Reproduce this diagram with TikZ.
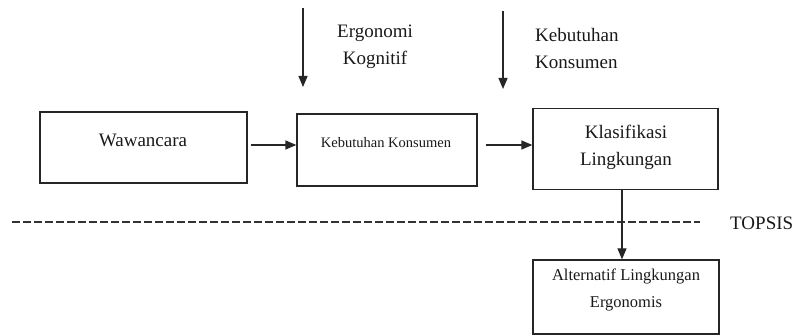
\documentclass[tikz,border=0pt]{standalone}
\usepackage{fontspec}
\setmainfont{Liberation Serif}
\usetikzlibrary{arrows.meta}
\tikzset{
  box/.style={draw=black!85, line width=1.3pt, inner sep=0pt},
  lbl/.style={inner sep=0pt, align=center, text=black!90},
  arr/.style={line width=1.3pt, draw=black!85, -{Triangle[length=11pt,width=9pt]}},
  big/.style={font=\fontsize{19}{27}\selectfont},
}
\begin{document}
\begin{tikzpicture}[x=1pt,y=-1pt]
\useasboundingbox (0,0) rectangle (792,336);
% boxes
\node[box, minimum width=207pt, minimum height=71pt] (w) at (143.5,147.5) {};
\node[lbl, big] (wt) at (143,140) {Wawancara};
\node[box, minimum width=180pt, minimum height=72pt] (k) at (387,150) {};
\node[lbl, font=\fontsize{14.5}{17}\selectfont] (kt) at (386,143) {Kebutuhan Konsumen};
\node[box, minimum width=185pt, minimum height=81pt] (c) at (625.5,149) {};
\node[lbl, big] (ct) at (626,147) {Klasifikasi\\Lingkungan};
\node[box, minimum width=186pt, minimum height=74pt] (a) at (626,297) {};
\node[lbl, font=\fontsize{16.5}{27}\selectfont] (at) at (626,290) {Alternatif Lingkungan\\Ergonomis};
% top labels
\node[lbl, big] (eg) at (375,46.5) {Ergonomi\\Kognitif};
\node[lbl, big, anchor=west, align=left] (kb) at (535,48.5) {Kebutuhan\\Konsumen};
\node[lbl, big, anchor=west] (tp) at (730,223) {TOPSIS};
% arrow start coordinates
\coordinate (s1) at (303,8);
\coordinate (e1) at (303,87);
\coordinate (s2) at (503,11);
\coordinate (e2) at (503,89);
\coordinate (d1) at (12,222);
\coordinate (d2) at (700,222);
% connectors
\draw[arr] (s1) -- (e1);
\draw[arr] (s2) -- (e2);
\draw[arr] ([xshift=3pt]w.east |- 0,145) -- (k.west |- 0,145);
\draw[arr] ([xshift=8pt]k.east |- 0,145) -- (c.west |- 0,145);
\draw[line width=1.5pt, draw=black!80, dash pattern=on 8pt off 3pt] (d1) -- (d2);
\draw[arr] (c.south -| 622,0) -- (a.north -| 622,0);
\end{tikzpicture}
\end{document}
